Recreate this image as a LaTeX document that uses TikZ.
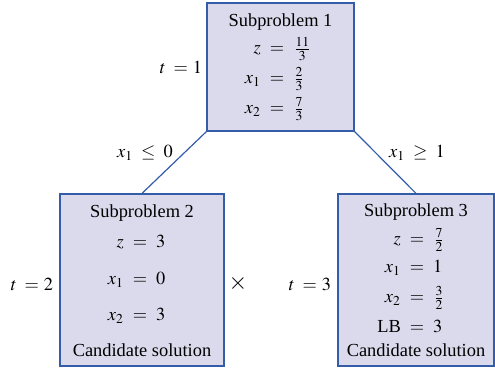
\documentclass[tikz,border=0pt]{standalone}
\usepackage{mathptmx}
\usepackage{fontspec}
\setmainfont{Liberation Serif}
\definecolor{boxfill}{RGB}{218,218,236}
\definecolor{boxline}{RGB}{52,92,168}
\newcommand{\eqln}[2]{\llap{#1\hspace{4.5pt}}$=$\rlap{\hspace{4.5pt}#2}}
\newcommand{\tlab}[1]{$t\hspace{4pt}{=}\hspace{2.5pt}#1$}
\begin{document}
\begin{tikzpicture}[x=0.5pt,y=-0.5pt,
  font=\fontsize{9.2}{11}\selectfont,
  box/.style={draw=boxline, fill=boxfill, line width=0.6pt, inner sep=0pt},
  link/.style={draw=boxline, line width=0.6pt},
  txt/.style={inner sep=0pt, anchor=center}]
\useasboundingbox (0,0) rectangle (495,368);
% boxes
\node[box, minimum width=73.5pt, minimum height=64pt] (b1) at (280.5,67) {};
\node[box, minimum width=82pt, minimum height=86pt] (b2) at (142,280) {};
\node[box, minimum width=78pt, minimum height=86pt] (b3) at (416,280) {};
% connectors
\draw[link] (b1.south west) -- (b2.north);
\draw[link] (b1.south east) -- (b3.north);
% box 1 text
\node[txt] (s1) at (280.5,22) {Subproblem 1};
\node[txt] (z1) at (277,49) {\eqln{$z$}{$\frac{11}{3}$}};
\node[txt] (xa1) at (277,79) {\eqln{$x_1$}{$\frac{2}{3}$}};
\node[txt] (xb1) at (277,109) {\eqln{$x_2$}{$\frac{7}{3}$}};
% box 2 text
\node[txt] (s2) at (142,213) {Subproblem 2};
\node[txt] (z2) at (140,242) {\eqln{$z$}{$3$}};
\node[txt] (xa2) at (140,280) {\eqln{$x_1$}{$0$}};
\node[txt] (xb2) at (140,316) {\eqln{$x_2$}{$3$}};
\node[txt] (c2) at (142,350) {Candidate solution};
% box 3 text
\node[txt] (s3) at (416,212) {Subproblem 3};
\node[txt] (z3) at (417,240) {\eqln{$z$}{$\frac{7}{2}$}};
\node[txt] (xa3) at (417,268) {\eqln{$x_1$}{$1$}};
\node[txt] (xb3) at (417,298) {\eqln{$x_2$}{$\frac{3}{2}$}};
\node[txt] (lb3) at (417,326) {\eqln{LB}{$3$}};
\node[txt] (c3) at (416,350) {Candidate solution};
% outer labels
\node[txt] (t1) at (181,67) {\tlab{1}};
\node[txt] (t2) at (32,284) {\tlab{2}};
\node[txt] (t3) at (310,284) {\tlab{3}};
\node[txt] (br1) at (145,153) {$x_1\;\leq\;0$};
\node[txt] (br2) at (417,153) {$x_1\;\geq\;1$};
\node[txt] (cross) at (238,284) {\fontsize{12}{14}\selectfont$\times$};
\end{tikzpicture}
\end{document}
